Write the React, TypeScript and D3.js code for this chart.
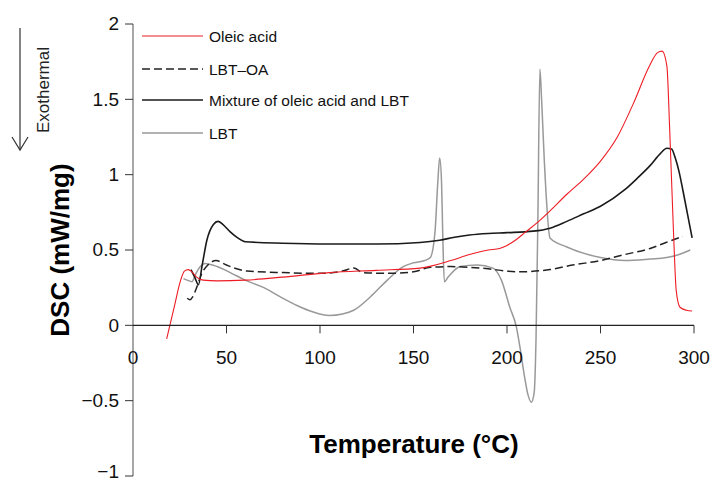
import React from 'react';
import * as d3 from 'd3';

// Oleic acid (red)
const oleicT = [18, 22, 25.5, 27.5, 29.5, 31.5, 34, 37.5, 45, 60, 80, 105, 130, 153.5, 170, 180, 190, 196, 200, 205, 210, 216, 223, 232, 241, 250, 259, 267.5, 276.5, 280.5, 283, 285.5, 287, 289, 290.5, 292.5, 296, 299];
const oleicV = [-0.09, 0.12, 0.30, 0.36, 0.37, 0.355, 0.32, 0.30, 0.295, 0.30, 0.32, 0.35, 0.365, 0.38, 0.43, 0.47, 0.50, 0.51, 0.53, 0.57, 0.62, 0.68, 0.76, 0.87, 0.97, 1.09, 1.25, 1.47, 1.73, 1.81, 1.82, 1.72, 1.30, 0.63, 0.23, 0.12, 0.10, 0.095];

// LBT–OA (dashed)
const lbtOaT = [29, 30.5, 32, 34, 37, 40, 44.4, 50, 61, 80, 100, 112, 118, 123, 136, 150, 159, 170, 180, 190, 200, 207, 215, 223, 235, 250, 263, 276.5, 285, 294];
const lbtOaV = [0.18, 0.17, 0.19, 0.25, 0.35, 0.40, 0.43, 0.40, 0.36, 0.35, 0.345, 0.36, 0.38, 0.35, 0.345, 0.355, 0.385, 0.39, 0.385, 0.375, 0.36, 0.355, 0.36, 0.37, 0.40, 0.43, 0.47, 0.51, 0.55, 0.59];

// Mixture of oleic acid and LBT (black)
const mixT = [31, 33, 35, 37, 39.5, 43, 45.5, 48, 52, 56, 60, 80, 105, 130, 153.5, 164, 172, 180, 190, 200, 214, 223, 232, 241, 250, 263, 270, 276.5, 282, 285.5, 288, 290, 292, 294, 296.5, 299];
const mixV = [0.37, 0.32, 0.27, 0.40, 0.565, 0.67, 0.69, 0.67, 0.62, 0.58, 0.555, 0.545, 0.54, 0.54, 0.55, 0.565, 0.585, 0.60, 0.61, 0.615, 0.625, 0.645, 0.69, 0.74, 0.79, 0.90, 0.98, 1.06, 1.14, 1.175, 1.17, 1.11, 1.02, 0.90, 0.74, 0.58];

// LBT (grey)
const lbtT = [27, 29, 31.6, 33.5, 36, 38.5, 45, 52, 60, 70, 78.6, 88, 96, 105, 112, 118, 127, 136, 144.5, 150, 156, 159, 161.5, 163, 164, 165, 165.7, 166.5, 168.5, 175, 184, 192.5, 197, 201.5, 205, 207, 209.5, 211, 213, 214.5, 215.5, 216.5, 217.6, 218.5, 220, 223, 232, 250, 263, 276.5, 285.5, 292, 298];
const lbtV = [0.31, 0.30, 0.29, 0.34, 0.39, 0.41, 0.39, 0.35, 0.30, 0.25, 0.19, 0.13, 0.09, 0.065, 0.075, 0.10, 0.19, 0.30, 0.39, 0.415, 0.43, 0.45, 0.62, 0.95, 1.11, 0.95, 0.57, 0.29, 0.32, 0.39, 0.40, 0.38, 0.30, 0.12, -0.01, -0.15, -0.35, -0.45, -0.51, -0.45, -0.1, 0.7, 1.70, 1.5, 1.08, 0.58, 0.52, 0.45, 0.43, 0.44, 0.45, 0.47, 0.50];

const xTicks = [0, 50, 100, 150, 200, 250, 300];
const yTicks = [-1, -0.5, 0, 0.5, 1, 1.5, 2];

const series = [
  { name: 'Oleic acid', t: oleicT, v: oleicV, color: '#ee1c24', width: 1.1, dash: '' },
  { name: 'LBT\u2013OA', t: lbtOaT, v: lbtOaV, color: '#222', width: 1.5, dash: '8,4' },
  { name: 'Mixture of oleic acid and LBT', t: mixT, v: mixV, color: '#1a1a1a', width: 1.6, dash: '' },
  { name: 'LBT', t: lbtT, v: lbtV, color: '#999', width: 1.5, dash: '' },
];

const font = "'Liberation Sans', Arial, Helvetica, sans-serif";

export default function App() {
  const width = 712;
  const height = 482;

  const x = d3.scaleLinear().domain([0, 300]).range([133, 694]);
  const y = d3.scaleLinear().domain([-1, 2]).range([476, 24]);

  const line = d3.line<[number, number]>()
    .x(d => x(d[0]))
    .y(d => y(d[1]))
    .curve(d3.curveMonotoneX);

  const legendY = [36, 69, 100, 133];

  return (
    <svg width={width} height={height} style={{ position: 'absolute', left: 0, top: 0, background: '#fff' }}
      fontFamily={font}>
      {/* series */}
      {series.slice().reverse().map(s => (
        <path key={s.name}
          d={line(s.t.map((t, i) => [t, s.v[i]] as [number, number])) || ''}
          fill="none" stroke={s.color} strokeWidth={s.width} strokeDasharray={s.dash} />
      ))}

      {/* y axis */}
      <line x1={x(0)} x2={x(0)} y1={y(2)} y2={y(-1)} stroke="#777" strokeWidth={1.3} />
      {yTicks.map(t => (
        <g key={t}>
          <line x1={x(0) - 8} x2={x(0)} y1={y(t)} y2={y(t)} stroke="#333" strokeWidth={1} />
          <text x={x(0) - 14} y={t === -1 ? y(t) - 4 : y(t)} dy="0.34em" textAnchor="end" fontSize={19} fill="#111">
            {t < 0 ? '\u2212' + Math.abs(t) : String(t)}
          </text>
        </g>
      ))}

      {/* x axis */}
      <line x1={x(0)} x2={x(300)} y1={y(0)} y2={y(0)} stroke="#222" strokeWidth={1.2} />
      {xTicks.map(t => (
        <g key={t}>
          {t !== 0 && <line x1={x(t)} x2={x(t)} y1={y(0)} y2={y(0) + 8} stroke="#333" strokeWidth={1} />}
          <text x={x(t)} y={364} textAnchor="middle" fontSize={19} fill="#111">{t}</text>
        </g>
      ))}

      {/* axis titles */}
      <text x={414} y={453} textAnchor="middle" fontSize={26} fontWeight="bold" fill="#000">Temperature (°C)</text>
      <text transform="translate(69,250) rotate(-90)" textAnchor="middle" fontSize={26} fontWeight="bold" fill="#000">DSC (mW/mg)</text>

      {/* exothermal arrow */}
      <line x1={20} x2={20} y1={28} y2={150} stroke="#333" strokeWidth={1.2} />
      <polyline points="12,137 20,150 28,137" fill="none" stroke="#333" strokeWidth={1.2} />
      <text transform="translate(49,90) rotate(-90)" textAnchor="middle" fontSize={17} fill="#222">Exothermal</text>

      {/* legend */}
      {series.map((s, i) => (
        <g key={s.name}>
          <line x1={142} x2={203} y1={legendY[i]} y2={legendY[i]} stroke={s.color} strokeWidth={s.width} strokeDasharray={s.dash} />
          <text x={209} y={legendY[i]} dy="0.36em" fontSize={15.5} fill="#111">{s.name}</text>
        </g>
      ))}
    </svg>
  );
}
